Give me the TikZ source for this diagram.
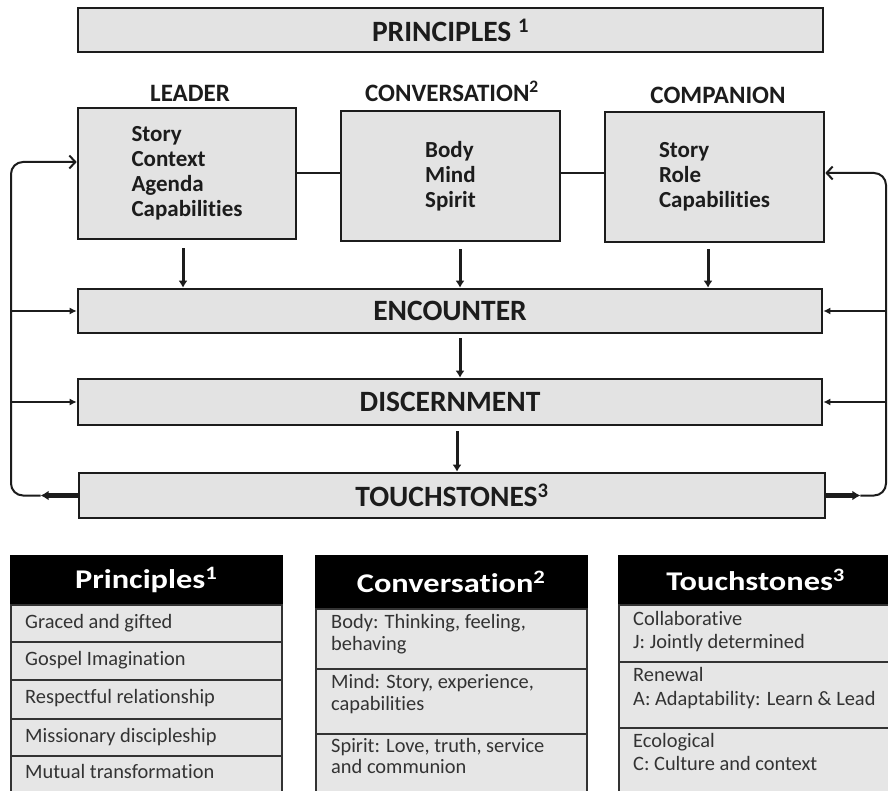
\documentclass[tikz,border=0pt]{standalone}
\usepackage{fontspec}
\usepackage{graphicx}
\setmainfont{Carlito}[Ligatures=CommonOff]
\usetikzlibrary{arrows.meta}
\definecolor{linec}{HTML}{1C1C1C}
\definecolor{boxfill}{HTML}{E3E3E3}
\definecolor{cellfill}{HTML}{E6E6E6}
\definecolor{celltext}{HTML}{333333}
\definecolor{cellline}{HTML}{333333}
\newcommand\fBig{\fontsize{29.5}{32}\selectfont\bfseries}
\newcommand\fLbl{\fontsize{25}{28}\selectfont\bfseries}
\newcommand\fBox{\fontsize{23}{25}\selectfont\bfseries}
\newcommand\fHead{\fontsize{27}{30}\selectfont\bfseries}
\newcommand\fCell{\fontsize{20.4}{22}\selectfont}
\newcommand\hd[1]{\scalebox{1.2}[1]{#1}}
\begin{document}
\begin{tikzpicture}[x=1pt,y=-1pt,
  bx/.style={draw=linec, line width=2.6pt, fill=boxfill, inner sep=0pt, text=linec},
  lbl/.style={anchor=base, font=\fLbl, text=linec, inner sep=0pt},
  dn/.style={line width=3pt, draw=linec, -{Latex[length=7pt,width=9pt]}},
  cn/.style={line width=2pt, draw=linec},
  fb/.style={line width=2pt, draw=linec},
  thk/.style={line width=5pt, draw=linec, -{Latex[length=8pt,width=10pt]}},
  brarr/.style={fb, -{Latex[length=7pt,width=7pt]}},
  barb/.style={fb, rounded corners=12pt, -{Straight Barb[length=6pt,width=13pt,line width=2pt]}},
  hdbox/.style={draw=black, fill=black, text=white, line width=1.5pt, anchor=north west, inner sep=0pt, font=\fHead},
  cell/.style={draw=cellline, fill=cellfill, line width=1.5pt, anchor=north west, inner sep=0pt},
  ctext/.style={anchor=base west, inner sep=0pt, font=\fCell, text=celltext}
]
\useasboundingbox (0,0) rectangle (888,791);
\clip (0,0) rectangle (888,791);
\fill[white] (0,0) rectangle (888,791);

% top
\node[bx, minimum width=745pt, minimum height=44pt, font=\fBig] (pr) at (450.5,30) {PRINCIPLES \textsuperscript{1}};

\node[lbl] (ll) at (190,102) {LEADER};
\node[lbl] (cl) at (452,102) {CONVERSATION\textsuperscript{2}};
\node[lbl] (pl) at (718,104) {COMPANION};

\node[bx, minimum width=218pt, minimum height=131pt, align=left, font=\fBox] (leader) at (187,173.5) {Story\\Context\\Agenda\\Capabilities};
\node[bx, minimum width=219pt, minimum height=130pt, align=left, font=\fBox] (conv) at (450.5,176) {Body\\Mind\\Spirit};
\node[bx, minimum width=219pt, minimum height=130pt, align=left, font=\fBox] (comp) at (714.5,177) {Story\\Role\\Capabilities};

\node[bx, minimum width=744pt, minimum height=44pt, font=\fBig] (enc) at (450,311) {ENCOUNTER};
\node[bx, minimum width=744pt, minimum height=46pt, font=\fBig] (disc) at (450,402) {DISCERNMENT};
\node[bx, minimum width=746pt, minimum height=45pt, font=\fBig] (touch) at (452,495.5) {TOUCHSTONES\textsuperscript{3}};

% horizontal connectors
\draw[cn] ([yshift=0.5pt]leader.east) -- ([yshift=3pt]conv.west);
\draw[cn] ([yshift=3pt]conv.east) -- ([yshift=4pt]comp.west);

% down arrows
\draw[dn] ([xshift=-4pt,yshift=-8pt]leader.south) -- ([xshift=-4pt]leader.south |- enc.north);
\draw[dn] ([xshift=9.5pt,yshift=-7pt]conv.south) -- ([xshift=9.5pt]conv.south |- enc.north);
\draw[dn] ([xshift=-6.5pt,yshift=-6pt]comp.south) -- ([xshift=-6.5pt]comp.south |- enc.north);
\draw[dn] ([xshift=10pt,yshift=-4pt]enc.south) -- ([xshift=10pt]enc.south |- disc.north);
\draw[dn] ([xshift=7pt,yshift=-5pt]disc.south) -- ([xshift=7pt]disc.south |- touch.north);

% feedback loops
\coordinate (Lo) at ([xshift=-37pt]touch.west);
\coordinate (Lb) at (11,495.5);
\coordinate (Lt) at (11,162);
\coordinate (Ro) at ([xshift=34pt]touch.east);
\coordinate (Rb) at (886,495.5);
\coordinate (Rt) at (886,173);

\draw[thk] (touch.west) -- (Lo);
\draw[thk] (touch.east) -- (Ro);
\draw[barb] (Lo) -- (Lb) -- (Lt) -- (Lt -| leader.west);
\draw[barb] (Ro) -- (Rb) -- (Rt) -- (Rt -| comp.east);
\draw[brarr] (Lt |- enc.west) -- (enc.west);
\draw[brarr] (Lt |- disc.west) -- (disc.west);
\draw[brarr] (Rt |- enc.east) -- (enc.east);
\draw[brarr] (Rt |- disc.east) -- (disc.east);

% table 1
\node[hdbox, minimum width=271pt, minimum height=49pt] (h1) at (10,555) {\hd{Principles\textsuperscript{1}}};
\node[cell, minimum width=271pt, minimum height=37pt] (a1) at (10,604) {};
\node[cell, minimum width=271pt, minimum height=38pt] (a2) at (10,641) {};
\node[cell, minimum width=271pt, minimum height=39pt] (a3) at (10,679) {};
\node[cell, minimum width=271pt, minimum height=37pt] (a4) at (10,718) {};
\node[cell, minimum width=271pt, minimum height=50pt] (a5) at (10,755) {};
\node[ctext] (ta1) at (25,628) {Graced and gifted};
\node[ctext] (ta2) at (25,665) {Gospel Imagination};
\node[ctext] (ta3) at (25,703) {Respectful relationship};
\node[ctext] (ta4) at (25,742) {Missionary discipleship};
\node[ctext] (ta5) at (25,778) {Mutual transformation};

% table 2
\node[hdbox, minimum width=271pt, minimum height=53pt] (h2) at (315,555) {\hd{Conversation\textsuperscript{2}}};
\node[cell, minimum width=271pt, minimum height=60pt] (b1) at (315,608) {};
\node[cell, minimum width=271pt, minimum height=65pt] (b2) at (315,668) {};
\node[cell, minimum width=271pt, minimum height=70pt] (b3) at (315,733) {};
\node[ctext] (tb1) at (331,628) {Body: Thinking, feeling,};
\node[ctext] (tb2) at (331,650) {behaving};
\node[ctext] (tb3) at (331,688) {Mind: Story, experience,};
\node[ctext] (tb4) at (331,710) {capabilities};
\node[ctext] (tb5) at (331,752) {Spirit: Love, truth, service};
\node[ctext] (tb6) at (331,773) {and communion};

% table 3
\node[hdbox, minimum width=274pt, minimum height=49pt] (h3) at (618,555) {\hd{Touchstones\textsuperscript{3}}};
\node[cell, minimum width=274pt, minimum height=57pt] (c1) at (618,604) {};
\node[cell, minimum width=274pt, minimum height=66pt] (c2) at (618,661) {};
\node[cell, minimum width=274pt, minimum height=75pt] (c3) at (618,727) {};
\node[ctext] (tc1) at (633,625) {Collaborative};
\node[ctext] (tc2) at (633,648) {J: Jointly determined};
\node[ctext] (tc3) at (633,681) {Renewal};
\node[ctext] (tc4) at (633,705) {A: Adaptability: Learn \& Lead};
\node[ctext] (tc5) at (633,747) {Ecological};
\node[ctext] (tc6) at (633,770) {C: Culture and context};
\end{tikzpicture}
\end{document}
